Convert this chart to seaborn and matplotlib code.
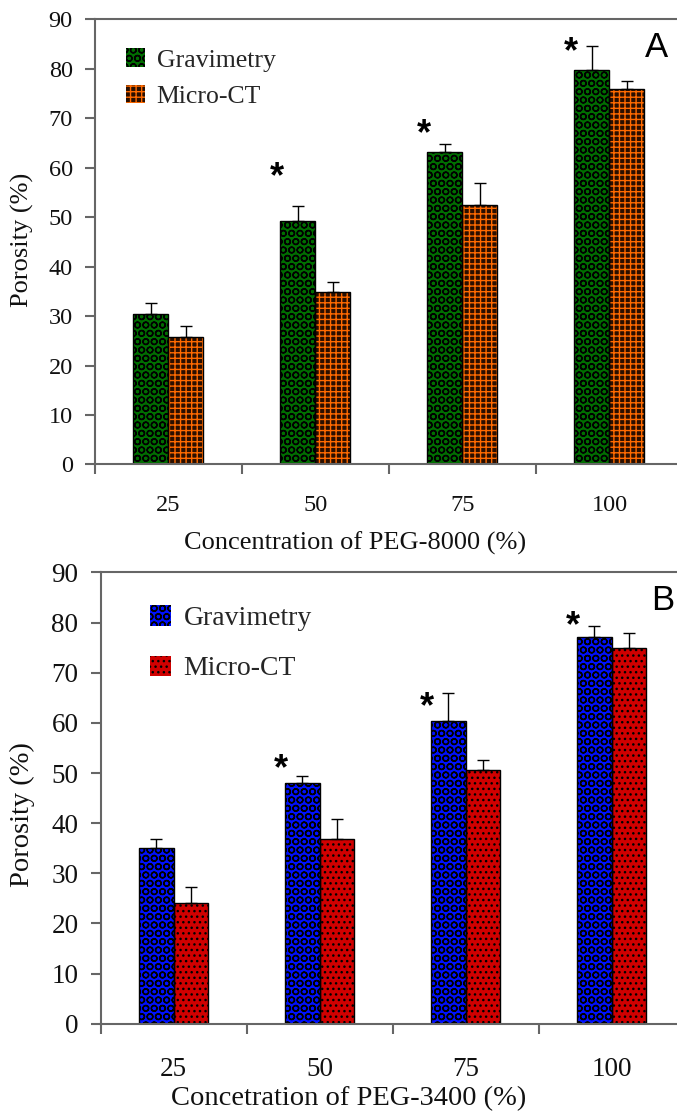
import numpy as np
import pandas as pd
import matplotlib
matplotlib.use("Agg")
import matplotlib.pyplot as plt
from matplotlib.patches import Rectangle
import seaborn as sns

# ---------------- data ----------------
concentrations = ["25", "50", "75", "100"]
methods = ["Gravimetry", "Micro-CT"]

# Panel A: PEG-8000
a_grav = [30.5, 49.2, 63.1, 79.8]
a_grav_err = [2.1, 3.1, 1.7, 4.7]
a_ct = [25.7, 34.8, 52.5, 75.8]
a_ct_err = [2.2, 2.1, 4.3, 1.7]
a_star_y = [None, 57.9, 66.6, 83.3]

# Panel B: PEG-3400
b_grav = [35.0, 48.0, 60.3, 77.2]
b_grav_err = [1.8, 1.4, 5.7, 2.2]
b_ct = [24.0, 36.8, 50.5, 74.9]
b_ct_err = [3.2, 4.0, 2.0, 3.1]
b_star_y = [None, 50.6, 63.0, 79.2]

yticks = [0, 10, 20, 30, 40, 50, 60, 70, 80, 90]

sns.set_theme(style="white")
plt.rcParams["font.family"] = ["Liberation Serif", "DejaVu Serif"]
plt.rcParams["hatch.linewidth"] = 1.0

fig = plt.figure(figsize=(6.77, 11.19), dpi=100)

SPINE = "#666666"


def make_df(grav, ct):
    rows = []
    for c, g, m in zip(concentrations, grav, ct):
        rows.append({"conc": c, "method": methods[0], "porosity": g})
        rows.append({"conc": c, "method": methods[1], "porosity": m})
    return pd.DataFrame(rows)


def panel(rect, grav, grav_err, ct, ct_err, star_y, styles, xlabel, letter,
          fs, lab_fs, label_xy, ylabel_xy, letter_xy, legend_anchor, leg_fs,
          leg_spacing, tick_pad):
    ax = fig.add_axes(rect)
    df = make_df(grav, ct)
    sns.barplot(data=df, x="conc", y="porosity", hue="method",
                order=concentrations, hue_order=methods,
                palette=[styles[0]["face"], styles[1]["face"]],
                width=0.476, saturation=1, errorbar=None, legend=False, ax=ax)
    bar_conts = list(ax.containers[:2])
    for cont, st in zip(bar_conts, styles):
        for p in cont.patches:
            p.set_facecolor(st["face"])
            p.set_hatch(st["hatch"])
            p.set_edgecolor(st["hatchcol"])
            p.set_linewidth(0)
            ax.add_patch(Rectangle(p.get_xy(), p.get_width(), p.get_height(),
                                   fill=False, edgecolor="black", linewidth=1.0,
                                   zorder=p.get_zorder() + 0.1))
    # error bars (upper only)
    for cont, err in zip(bar_conts, [grav_err, ct_err]):
        xs = [p.get_x() + p.get_width() / 2 for p in cont.patches]
        ys = [p.get_height() for p in cont.patches]
        ax.errorbar(xs, ys, yerr=[np.zeros(len(err)), err], fmt="none",
                    ecolor="black", elinewidth=1.0, capsize=4.5, capthick=1.0,
                    zorder=5)
    # significance stars
    for i, sy in enumerate(star_y):
        if sy is not None:
            ax.text(i - 0.265, sy, "*", ha="center", va="center",
                    fontsize=26, color="black", fontweight="bold",
                    family=["Liberation Sans"])
    ax.set_ylim(0, 90)
    ax.set_xlim(-0.5, 3.5)
    ax.set_yticks(yticks)
    ax.set_yticklabels([str(t) for t in yticks], fontsize=fs, color="#111111")
    ax.set_xticks([-0.5, 0.5, 1.5, 2.5])
    ax.set_xticklabels([])
    ax.set_xticks(range(len(concentrations)), minor=True)
    ax.set_xticklabels(concentrations, minor=True, fontsize=fs, color="#111111")
    ax.tick_params(axis="x", which="major", direction="out", length=7,
                   width=1.5, color=SPINE, bottom=True)
    ax.tick_params(axis="x", which="minor", length=0, pad=tick_pad, bottom=True)
    ax.tick_params(axis="y", direction="out", length=7, width=1.5, color=SPINE,
                   pad=9, left=True)
    for s in ["left", "bottom", "top"]:
        ax.spines[s].set_visible(True)
        ax.spines[s].set_color(SPINE)
        ax.spines[s].set_linewidth(1.5)
    ax.spines["right"].set_visible(False)
    ax.set_xlabel(xlabel, fontsize=lab_fs, color="#111111")
    ax.xaxis.set_label_coords(*label_xy)
    ax.set_ylabel("Porosity (%)", fontsize=lab_fs, color="#111111")
    ax.yaxis.set_label_coords(*ylabel_xy)
    ax.text(letter_xy[0], letter_xy[1], letter, transform=ax.transAxes,
            ha="center", va="center", fontsize=25, family=["Liberation Sans"],
            color="black")
    ax.legend(handles=bar_conts, labels=methods, loc="upper left",
              bbox_to_anchor=legend_anchor, frameon=False, fontsize=leg_fs,
              handlelength=0.75, handleheight=0.75, handletextpad=0.45,
              labelspacing=leg_spacing, borderaxespad=0)
    return ax


styles_a = [
    {"face": "#006e00", "hatch": "OO", "hatchcol": "black"},
    {"face": "#2a0f00", "hatch": "+++", "hatchcol": "#ff6a00"},
]
styles_b = [
    {"face": "#0010ff", "hatch": "OO", "hatchcol": "black"},
    {"face": "#d00000", "hatch": "...", "hatchcol": "black"},
]

panel([0.1403, 0.5849, 0.8685, 0.3981], a_grav, a_grav_err, a_ct, a_ct_err,
      a_star_y, styles_a, "Concentration of PEG-8000 (%)", "A", 17.5, 19,
      (0.442, -0.150), (-0.104, 0.504), (0.955, 0.935), (0.035, 0.957), 18.5,
      0.5, 22)

panel([0.1487, 0.0852, 0.8626, 0.4032], b_grav, b_grav_err, b_ct, b_ct_err,
      b_star_y, styles_b, "Concetration of PEG-3400 (%)", "B", 19.5, 20.5,
      (0.425, -0.138), (-0.112, 0.4625), (0.962, 0.939), (0.066, 0.952), 20,
      0.88, 24)

fig.savefig("out.png", dpi=100)
